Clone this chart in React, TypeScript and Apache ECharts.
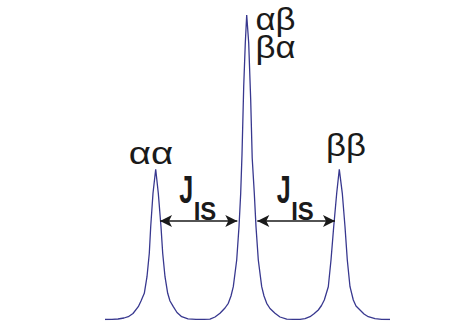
import React, { useEffect, useRef } from 'react';
import * as echarts from 'echarts';

// Spectrum trace: frequency position (arbitrary units) and intensity.
const positions = [
  105, 112, 118, 124, 128.3, 133, 138.3, 141, 144.3, 147, 149.3, 150.7, 153, 155.7,
  158.3, 161, 162.7, 165, 167.7, 170, 173.3, 177, 181.7, 188, 196, 204, 210, 215, 220,
  225, 228.3, 231, 233.3, 236.7, 239, 240.7, 242, 243.7, 245.3, 246.7, 248.7, 250.7,
  252.2, 254.3, 256, 258.3, 261.7, 264, 266.7, 270, 275, 280, 286.7, 293, 300, 305,
  310, 314, 318.3, 321.5, 324.3, 328.3, 331, 333.7, 336.7, 339.3, 342.3, 345, 347.3,
  350, 353.3, 356, 360, 364, 368.3, 375, 381.7, 390,
];
const intensity = [
  0, 0.2, 0.5, 1.5, 2.8, 6, 12.8, 18.5, 26.2, 42.8, 66.2, 92.8, 126.2, 150.2,
  126.2, 92.8, 66.2, 42.8, 26.2, 18.5, 12.8, 7, 2.8, 0.7, 0.1, 0.1, 0.3, 2.5, 6.2,
  11.5, 16.2, 23.5, 32.8, 59.5, 92.8, 126.2, 165, 232.8, 276.5, 304.5, 276.5, 219.5,
  161.5, 126.2, 92.8, 59.5, 32.8, 23.5, 16.2, 11, 6.2, 2.5, 0.3, 0.1, 0.2, 0.9,
  2.8, 5.7, 9.5, 14, 19.5, 32.8, 59.5, 92.8, 126.2, 150.2, 126.2, 92.8, 59.5,
  32.8, 19.5, 13.5, 9.5, 5.5, 2.8, 0.9, 0.2, 0,
];

// Spin-state labels (the central line is doubly degenerate) and anchors in data space.
const stateLabels = ['αα', 'αβ\nβα', 'ββ'];
const stateAnchors: [number, number][] = [
  [151, 153],
  [255.5, 258],
  [346, 160],
];
const stateAlign = ['center', 'left', 'center'];
const stateStretch = [1.24, 1.12, 1.12];

// Coupling arrows: [from, to] positions, drawn at one intensity level.
const couplingSpans: [number, number][] = [
  [160, 237.3],
  [257.3, 335],
];
const couplingLevel = 98.5;
const couplingMain = 'J';
const couplingSub = 'IS';

const LINE_COLOR = '#38388f';
const TEXT_COLOR = '#1a1a1a';

export default function App() {
  const ref = useRef<HTMLDivElement>(null);

  useEffect(() => {
    if (!ref.current) return;
    const chart = echarts.init(ref.current, null, { renderer: 'svg' });
    chart.setOption({
      animation: false,
      backgroundColor: '#ffffff',
      grid: { left: 0, right: 0, top: 0, bottom: 1.5 },
      xAxis: { type: 'value', min: 0, max: 466, show: false },
      yAxis: { type: 'value', min: 0, max: 319.5, show: false },
      series: [
        {
          type: 'line',
          data: positions.map((x, i) => [x, intensity[i]]),
          showSymbol: false,
          silent: true,
          lineStyle: { color: LINE_COLOR, width: 1.3 },
          markLine: {
            silent: true,
            symbol: ['arrow', 'arrow'],
            symbolSize: [9, 12],
            label: { show: false },
            lineStyle: { color: TEXT_COLOR, width: 1.5, type: 'solid' },
            data: couplingSpans.map(([a, b]) => [
              { coord: [a, couplingLevel] },
              { coord: [b, couplingLevel] },
            ]),
          },
        },
      ],
    });

    const toPx = (p: [number, number]) =>
      chart.convertToPixel({ gridIndex: 0 }, p) as number[];

    const greekFont = '31px "Liberation Sans", Arial, sans-serif';
    const stateTexts = stateLabels.map((label, i) => {
      const [x, y] = toPx(stateAnchors[i]);
      return {
        type: 'text',
        x,
        y,
        scaleX: stateStretch[i],
        silent: true,
        style: {
          text: label,
          font: greekFont,
          lineHeight: 28,
          fill: TEXT_COLOR,
          align: stateAlign[i],
          verticalAlign: 'bottom',
        },
      };
    });

    const couplingTexts = couplingSpans.flatMap(([a, b]) => {
      const mid = (a + b) / 2;
      const [jx, jy] = toPx([mid - 5.5, couplingLevel + 12]);
      const [sx, sy] = toPx([mid - 5, couplingLevel - 3]);
      return [
        {
          type: 'text',
          x: jx,
          y: jy,
          scaleX: 0.66,
          silent: true,
          style: {
            text: couplingMain,
            font: 'bold 38px "Liberation Sans", Arial, sans-serif',
            fill: TEXT_COLOR,
            align: 'right',
            verticalAlign: 'bottom',
          },
        },
        {
          type: 'text',
          x: sx,
          y: sy,
          scaleX: 0.92,
          silent: true,
          style: {
            text: couplingSub,
            font: 'bold 26px "Liberation Sans", Arial, sans-serif',
            fill: TEXT_COLOR,
            align: 'left',
            verticalAlign: 'bottom',
          },
        },
      ];
    });

    chart.setOption({ graphic: [...stateTexts, ...couplingTexts] });

    return () => chart.dispose();
  }, []);

  return (
    <div
      ref={ref}
      style={{ position: 'absolute', left: 0, top: 0, width: 466, height: 321 }}
    />
  );
}
